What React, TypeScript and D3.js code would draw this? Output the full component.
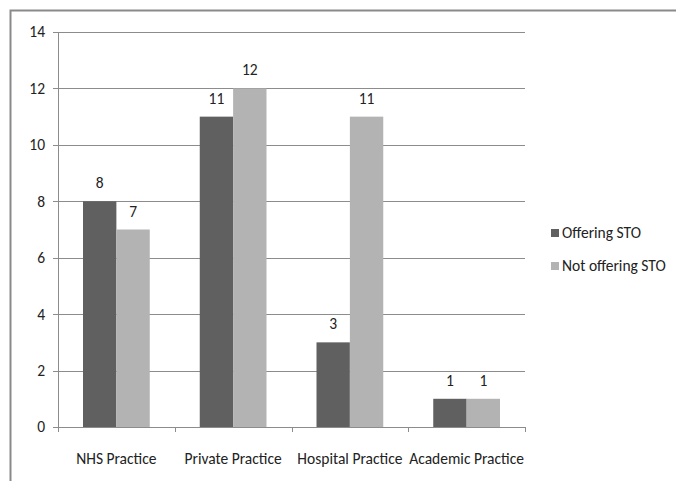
import React from "react";
import * as d3 from "d3";

const categories = ["NHS Practice", "Private Practice", "Hospital Practice", "Academic Practice"];
const seriesNames = ["Offering STO", "Not offering STO"];
const offering = [8, 11, 3, 1];
const notOffering = [7, 12, 11, 1];
const yTicks = [0, 2, 4, 6, 8, 10, 12, 14];
const colors = ["#606060", "#b3b3b3"];

const W = 676;
const H = 481;
const FONT = "Carlito, 'Liberation Sans Narrow', 'Liberation Sans', Arial, sans-serif";
const FS = 15.5;

export default function App() {
  const left = 58;
  const right = 525;
  const top = 32;
  const bottom = 427;

  const x = d3.scaleBand<string>().domain(categories).range([left, right]).paddingInner(0).paddingOuter(0);
  const y = d3.scaleLinear().domain([0, 14]).range([bottom, top]);
  const groupPad = 25;
  const barW = (x.bandwidth() - 2 * groupPad) / 2;
  const series = [offering, notOffering];

  return (
    <svg
      width={W}
      height={H}
      style={{ position: "absolute", left: 0, top: 0, background: "#fff" }}
      fontFamily={FONT}
    >
      <rect x={0} y={0} width={W} height={H} fill="#fff" />
      {/* outer frame */}
      <path d={`M10.5,${H} V10.5 H${W}`} fill="none" stroke="#8a8a8a" strokeWidth={2} />

      {/* gridlines and y ticks */}
      {yTicks.map((t) => (
        <g key={t}>
          <line x1={left - 5} x2={right} y1={Math.round(y(t)) + 0.5} y2={Math.round(y(t)) + 0.5} stroke="#8c8c8c" strokeWidth={1} />
          <text x={45} y={y(t)} dy="0.35em" textAnchor="end" fontSize={FS} fill="#222">
            {t}
          </text>
        </g>
      ))}

      {/* y axis */}
      <line x1={left + 0.5} x2={left + 0.5} y1={top} y2={bottom} stroke="#8c8c8c" />

      {/* x axis ticks */}
      {[0, 1, 2, 3, 4].map((i) => {
        const xx = Math.round(left + i * x.step()) + 0.5;
        return <line key={i} x1={xx} x2={xx} y1={bottom} y2={bottom + 5} stroke="#8c8c8c" />;
      })}

      {/* bars */}
      {series.map((vals, si) =>
        vals.map((v, ci) => {
          const bx = (x(categories[ci]) as number) + groupPad + si * barW;
          return (
            <g key={`${si}-${ci}`}>
              <rect x={bx} y={y(v)} width={barW} height={bottom - y(v)} fill={colors[si]} />
              <text x={bx + barW / 2} y={y(v) - 13} textAnchor="middle" fontSize={FS} fill="#222">
                {v}
              </text>
            </g>
          );
        })
      )}

      {/* category labels */}
      {categories.map((c) => (
        <text key={c} x={(x(c) as number) + x.bandwidth() / 2} y={464} textAnchor="middle" fontSize={FS} fill="#222">
          {c}
        </text>
      ))}

      {/* legend */}
      {seriesNames.map((n, i) => (
        <g key={n} transform={`translate(551, ${233 + i * 33})`}>
          <rect x={0} y={-4} width={8} height={8} fill={colors[i]} />
          <text x={11} y={0} dy="0.35em" fontSize={FS} fill="#222">
            {n}
          </text>
        </g>
      ))}
    </svg>
  );
}
